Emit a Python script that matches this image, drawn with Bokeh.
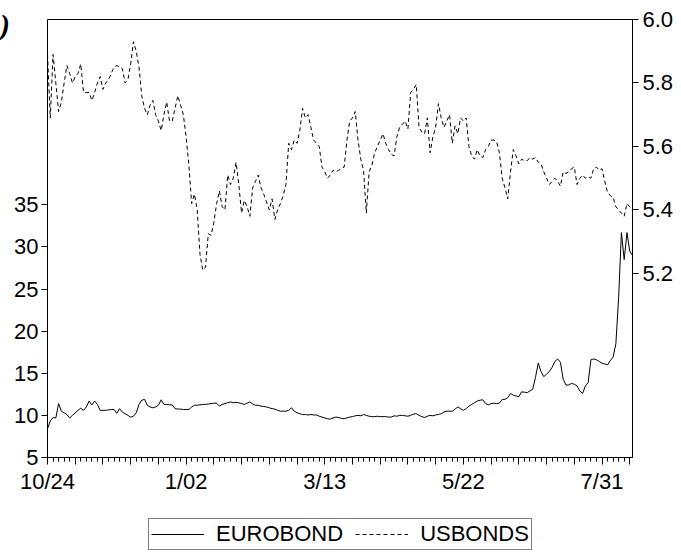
from bokeh.plotting import figure
from bokeh.models import (Range1d, LinearAxis, FixedTicker, Legend, LegendItem,
                          Div, ColumnDataSource, NumeralTickFormatter)
from bokeh.layouts import row, column
from bokeh.embed import file_html
from bokeh.resources import INLINE

# Daily (business-day) observations, 10/24 through mid-August
tick_labels = ["10/24", "1/02", "3/13", "5/22", "7/31"]
label_positions = [0, 50, 100, 150, 200]
series_names = ["EUROBOND", "USBONDS"]

eurobond = [
    8.4, 9.35, 9.75, 9.7, 11.4, 10.5, 10.3, 10.1, 9.7, 10.0,
    10.3, 10.6, 10.85, 10.6, 11.0, 11.7, 11.25, 11.7, 11.3, 10.6,
    10.6, 10.6, 10.65, 10.7, 10.7, 10.25, 10.8, 10.4, 10.2, 10.0,
    9.8, 9.9, 10.3, 11.3, 11.8, 11.9, 11.2, 11.0, 10.9, 11.0,
    11.2, 11.85, 11.3, 11.3, 11.25, 11.25, 10.8, 10.75, 10.75, 10.7,
    10.7, 10.7, 11.0, 11.2, 11.2, 11.25, 11.3, 11.3, 11.35, 11.4,
    11.45, 11.45, 11.1, 11.3, 11.4, 11.5, 11.6, 11.5, 11.55, 11.5,
    11.4, 11.3, 11.45, 11.6, 11.35, 11.2, 11.2, 11.1, 11.05, 11.0,
    10.9, 10.8, 10.75, 10.6, 10.5, 10.5, 10.5, 10.6, 10.9, 10.5,
    10.3, 10.2, 10.1, 10.1, 10.05, 10.1, 10.05, 10.05, 9.9, 9.8,
    9.7, 9.6, 9.55, 9.7, 9.8, 9.75, 9.65, 9.6, 9.7, 9.8,
    9.85, 9.95, 10.0, 9.95, 10.1, 10.0, 9.9, 9.85, 9.85, 9.9,
    9.85, 9.85, 9.85, 9.8, 9.8, 9.95, 9.9, 10.0, 10.0, 9.95,
    9.9, 10.0, 10.15, 10.2, 10.0, 9.85, 9.75, 9.9, 10.0, 9.95,
    10.05, 10.1, 10.2, 10.4, 10.5, 10.5, 10.5, 10.75, 11.0, 10.8,
    10.6, 10.8, 11.1, 11.3, 11.5, 11.7, 11.8, 11.85, 11.4, 11.25,
    11.4, 11.45, 11.4, 11.45, 11.9, 11.9, 12.1, 12.6, 12.4, 12.3,
    12.2, 12.8, 12.75, 12.7, 12.9, 13.1, 14.5, 16.2, 15.2, 14.6,
    14.9, 15.2, 15.7, 16.4, 16.7, 16.3, 14.3, 13.6, 13.6, 13.8,
    13.7, 13.5, 12.9, 12.6, 13.5, 13.9, 16.6, 16.7, 16.6, 16.4,
    16.2, 16.1, 16.0, 16.5, 16.9, 18.5, 24.0, 31.7, 28.5, 31.7,
    29.5, 29.0,
]

usbonds = [
    5.89, 5.69, 5.89, 5.80, 5.71, 5.74, 5.80, 5.855, 5.83, 5.80,
    5.82, 5.83, 5.86, 5.77, 5.77, 5.77, 5.745, 5.77, 5.80, 5.82,
    5.78, 5.80, 5.81, 5.83, 5.85, 5.855, 5.85, 5.845, 5.80, 5.81,
    5.86, 5.93, 5.90, 5.85, 5.76, 5.72, 5.70, 5.73, 5.745, 5.70,
    5.68, 5.65, 5.70, 5.74, 5.68, 5.68, 5.72, 5.76, 5.73, 5.70,
    5.63, 5.54, 5.42, 5.45, 5.40, 5.26, 5.21, 5.22, 5.325, 5.32,
    5.36, 5.42, 5.46, 5.41, 5.40, 5.51, 5.48, 5.50, 5.55, 5.48,
    5.39, 5.43, 5.41, 5.38, 5.47, 5.49, 5.51, 5.47, 5.45, 5.425,
    5.40, 5.435, 5.37, 5.40, 5.42, 5.445, 5.48, 5.61, 5.59, 5.62,
    5.61, 5.65, 5.72, 5.69, 5.70, 5.66, 5.62, 5.61, 5.60, 5.535,
    5.52, 5.50, 5.51, 5.525, 5.52, 5.525, 5.53, 5.535, 5.62, 5.68,
    5.69, 5.71, 5.62, 5.56, 5.525, 5.39, 5.52, 5.54, 5.58, 5.60,
    5.62, 5.64, 5.61, 5.59, 5.575, 5.57, 5.63, 5.66, 5.67, 5.68,
    5.655, 5.77, 5.78, 5.795, 5.66, 5.645, 5.64, 5.69, 5.58, 5.63,
    5.66, 5.735, 5.69, 5.66, 5.68, 5.70, 5.61, 5.665, 5.64, 5.69,
    5.68, 5.69, 5.60, 5.57, 5.56, 5.59, 5.57, 5.565, 5.59, 5.60,
    5.62, 5.62, 5.615, 5.58, 5.50, 5.47, 5.435, 5.52, 5.59, 5.57,
    5.545, 5.56, 5.555, 5.555, 5.565, 5.56, 5.565, 5.55, 5.545, 5.52,
    5.50, 5.48, 5.49, 5.50, 5.49, 5.475, 5.52, 5.515, 5.52, 5.53,
    5.535, 5.48, 5.50, 5.51, 5.50, 5.505, 5.50, 5.53, 5.535, 5.525,
    5.53, 5.49, 5.455, 5.445, 5.44, 5.41, 5.40, 5.39, 5.38, 5.42,
    5.41, 5.40,
]

obs = list(range(len(eurobond)))
source = ColumnDataSource(dict(t=obs, euro=eurobond, us=usbonds))

FONT = "Liberation Sans"
EURO_STYLE = dict(line_color="black", line_width=1)
US_STYLE = dict(line_color="black", line_width=1, line_dash="4 3")

# ---- main chart -----------------------------------------------------------
p = figure(width=671, height=505, output_backend="svg", toolbar_location=None,
           x_range=Range1d(0, len(obs) - 1), y_range=Range1d(5, 57.0),
           min_border_left=37, min_border_right=49, min_border_top=19,
           min_border_bottom=48, margin=0)
p.extra_y_ranges = {"us": Range1d(4.62, 6.0)}

p.background_fill_color = "white"
p.border_fill_color = "white"
p.outline_line_color = "black"
p.outline_line_width = 1
p.xgrid.visible = False
p.ygrid.visible = False

p.line("t", "euro", source=source, **EURO_STYLE)
p.line("t", "us", source=source, y_range_name="us", **US_STYLE)

# bottom axis: ticks every 10 obs, short ticks every 2, labels every 50
xa = p.xaxis[0]
xa.ticker = FixedTicker(ticks=list(range(0, len(obs), 10)),
                        minor_ticks=list(range(0, len(obs), 2)))
overrides = {t: "" for t in range(0, len(obs), 10)}
for pos, lab in zip(label_positions, tick_labels):
    overrides[pos] = lab
xa.major_label_overrides = overrides

# left axis (EUROBOND)
ya = p.yaxis[0]
ya.ticker = FixedTicker(ticks=[5, 10, 15, 20, 25, 30, 35], minor_ticks=[])

# right axis (USBONDS)
yr = LinearAxis(y_range_name="us",
                ticker=FixedTicker(ticks=[5.2, 5.4, 5.6, 5.8, 6.0], minor_ticks=[]),
                formatter=NumeralTickFormatter(format="0.0"))
p.add_layout(yr, "right")

for ax in (xa, ya, yr):
    ax.axis_line_color = "black"
    ax.axis_line_width = 1
    ax.major_tick_line_color = "black"
    ax.minor_tick_line_color = "black"
    ax.major_tick_in = 0
    ax.minor_tick_in = 0
    ax.major_label_text_font = FONT
    ax.major_label_text_font_size = "22px"
    ax.major_label_text_color = "black"
    ax.major_label_text_font_style = "normal"

xa.major_tick_out = 7
xa.minor_tick_out = 4
xa.major_label_standoff = 4
ya.major_tick_out = 6
ya.major_label_standoff = 3
yr.major_tick_out = 6
yr.major_label_standoff = 4

# ---- key strip underneath the chart --------------------------------------
# the same two series, drawn off-range so only the legend samples show
key = figure(width=681, height=53, output_backend="svg", toolbar_location=None,
             x_axis_type=None, y_axis_type=None,
             x_range=Range1d(-20, -10), y_range=Range1d(0, 1),
             min_border_left=0, min_border_right=0, min_border_top=0,
             min_border_bottom=0, margin=0)
key.outline_line_color = None
key.xgrid.visible = False
key.ygrid.visible = False
k_euro = key.line("t", "euro", source=source, **EURO_STYLE)
k_us = key.line("t", "us", source=source, **US_STYLE)

legend = Legend(items=[LegendItem(label=series_names[0], renderers=[k_euro]),
                       LegendItem(label=series_names[1], renderers=[k_us])],
                orientation="horizontal", location=(148, 8))
legend.label_text_font = FONT
legend.label_text_font_size = "22px"
legend.label_text_color = "black"
legend.border_line_color = "black"
legend.border_line_width = 1
legend.background_fill_color = "white"
legend.background_fill_alpha = 1
legend.padding = 2
legend.margin = 0
legend.spacing = 12
legend.glyph_width = 53
legend.glyph_height = 20
legend.label_standoff = 12
legend.label_height = 20
key.add_layout(legend, "center")

# panel tag in the upper-left corner
tag = Div(text=")", width=10, height=45, margin=0,
          styles={"font-family": "Liberation Serif", "font-weight": "bold",
                  "font-style": "italic", "font-size": "30px",
                  "line-height": "1", "padding-top": "10px", "color": "black",
                  "overflow": "visible"})

layout = column(row(tag, p, spacing=0, margin=0), key, spacing=0, margin=0)

open("out.html", "w").write(file_html(layout, INLINE))
